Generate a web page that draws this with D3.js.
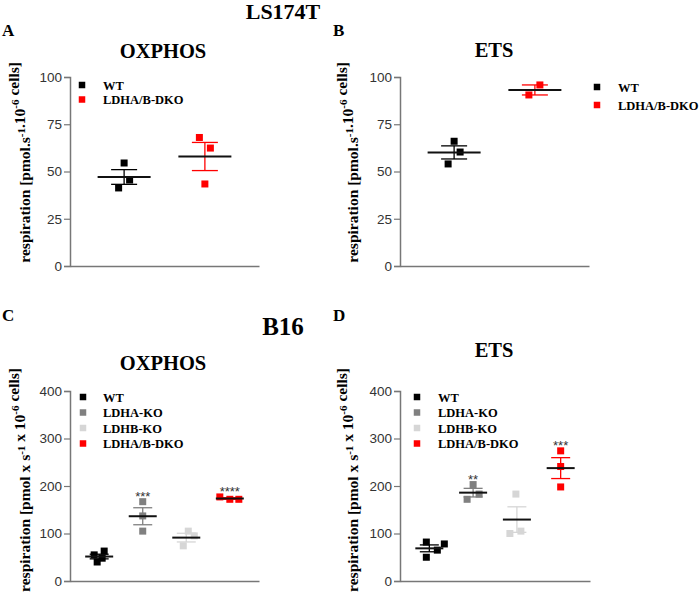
<!DOCTYPE html>
<html><head><meta charset="utf-8">
<script src="https://cdn.jsdelivr.net/npm/d3@7"></script>
<style>body{margin:0;background:#fff} svg{display:block}</style>
</head><body>
<svg id="c" width="700" height="607"></svg>
<script>
// ---------- DATA ----------
const groupsLS = ["WT", "LDHA/B-DKO"];
const groupsB16 = ["WT", "LDHA-KO", "LDHB-KO", "LDHA/B-DKO"];
const ticksLS = [0, 25, 50, 75, 100];
const ticksB16 = [0, 100, 200, 300, 400];
const lsOxphos = [[54.5, 45.5, 41.3], [68, 62.4, 43.4]];
const lsEts = [[66, 60.3, 54], [90.5, 95.8]];
const b16Oxphos = [[55, 63, 40, 48], [167, 137, 105], [105, 95, 74], [177, 172, 172]];
const b16Ets = [[82, 78, 65, 50], [203, 172, 183], [183, 100, 105], [274, 241, 198]];
const sigOxphos = ["", "***", "", "****"];
const sigEts = ["", "**", "", "***"];
const colorsLS = ["#000000", "#ff0000"];
const colorsB16 = ["#000000", "#808080", "#d6d6d6", "#ff0000"];
// horizontal scatter (jitter) of each point, px
const jitA = [[0, 5.5, -5.5], [-5.5, 5.5, 0]];
const jitB = [[0, 6, -6], [-6, 5]];
const jitC = [[-5, 5, -2, 3], [0, 0, 0], [2, 8, -3], [-10, 0, 9]];
const jitD = [[-3, 15, 8, -3], [0, -6, 6], [-1, -7, 4], [0, 0, 0]];

const svg = d3.select("#c");
const serif = "'Liberation Serif','Times New Roman',serif";
const sans = "'Liberation Sans',Arial,sans-serif";

function panel(cfg) {
  const g = svg.append("g");
  const y = d3.scaleLinear().domain([0, cfg.ticks[cfg.ticks.length - 1]]).range([cfg.yBot, cfg.yTop]);
  const x = d3.scalePoint().domain(cfg.groups).range([cfg.x0, cfg.x1]).padding(0.67);

  // axes
  const ya = g.append("g").attr("transform", `translate(${cfg.x0},0)`)
    .call(d3.axisLeft(y).tickValues(cfg.ticks).tickSize(6).tickPadding(2));
  ya.select(".domain").attr("stroke", "#777").attr("stroke-width", 1.5);
  ya.selectAll(".tick line").attr("stroke", "#777").attr("stroke-width", 1.2);
  ya.selectAll(".tick text").attr("font-family", sans).attr("font-size", 13.5).attr("fill", "#333");
  const xa = g.append("g").attr("transform", `translate(0,${cfg.yBot})`)
    .call(d3.axisBottom(x).tickSize(0).tickFormat(""));
  xa.select(".domain").attr("stroke", "#777").attr("stroke-width", 1.5);

  // points
  const ms = 7;
  cfg.data.forEach((vals, gi) => {
    const cx = x(cfg.groups[gi]);
    g.selectAll(null).data(vals).enter().append("rect")
      .attr("x", (d, i) => cx + cfg.jit[gi][i] - ms / 2)
      .attr("y", d => y(d) - ms / 2)
      .attr("width", ms).attr("height", ms)
      .attr("fill", cfg.colors[gi]);
  });
  // mean + SEM
  cfg.data.forEach((vals, gi) => {
    const cx = x(cfg.groups[gi]);
    const m = d3.mean(vals);
    const sem = d3.deviation(vals) / Math.sqrt(vals.length);
    const col = cfg.colors[gi];
    g.append("line").attr("x1", cx).attr("x2", cx).attr("y1", y(m + sem)).attr("y2", y(m - sem))
      .attr("stroke", col).attr("stroke-width", 1.3);
    [m + sem, m - sem].forEach(v => {
      g.append("line").attr("x1", cx - cfg.cap).attr("x2", cx + cfg.cap).attr("y1", y(v)).attr("y2", y(v))
        .attr("stroke", col).attr("stroke-width", 1.3);
    });
    g.append("line").attr("x1", cx - cfg.mw).attr("x2", cx + cfg.mw).attr("y1", y(m)).attr("y2", y(m))
      .attr("stroke", "#111").attr("stroke-width", 2);
    if (cfg.sig && cfg.sig[gi]) {
      g.append("text").attr("x", cx).attr("y", y(d3.max(vals)) - 1)
        .attr("text-anchor", "middle").attr("font-family", sans).attr("font-size", 13)
        .attr("fill", "#333").text(cfg.sig[gi]);
    }
  });

  // legend
  cfg.groups.forEach((name, i) => {
    const ly = cfg.legY + i * cfg.legStep;
    g.append("rect").attr("x", cfg.legX - 3.25).attr("y", ly - 3.25).attr("width", 6.5).attr("height", 6.5)
      .attr("fill", cfg.colors[i]);
    g.append("text").attr("x", cfg.legTextX).attr("y", ly + 4.5)
      .attr("font-family", serif).attr("font-weight", "bold").attr("font-size", 12.5).text(name);
  });

  // title
  g.append("text").attr("x", cfg.titleX).attr("y", cfg.titleY).attr("text-anchor", "middle")
    .attr("font-family", serif).attr("font-weight", "bold").attr("font-size", 20.5).text(cfg.title);

  // y label
  const t = g.append("text").attr("transform", `translate(${cfg.labX},${cfg.labTop}) rotate(-90)`)
    .attr("text-anchor", "end").attr("dy", "0.35em")
    .attr("font-family", serif).attr("font-weight", "bold").attr("font-size", 15.5);
  cfg.label.forEach(part => {
    if (part.sup) {
      t.append("tspan").attr("dy", -5.5).attr("font-size", 11).text(part.sup);
      t.append("tspan").attr("dy", 5.5).text("");
    } else {
      t.append("tspan").text(part.t);
    }
  });
}

const labLS = [{t: "respiration [pmol.s"}, {sup: "-1"}, {t: ".10"}, {sup: "-6"}, {t: " cells]"}];
const labB16 = [{t: "respiration [pmol x s"}, {sup: "-1"}, {t: " x 10"}, {sup: "-6"}, {t: " cells]"}];

panel({groups: groupsLS, data: lsOxphos, jit: jitA, colors: colorsLS, ticks: ticksLS,
  x0: 70, x1: 259, yTop: 77, yBot: 266, mw: 26.5, cap: 13,
  legX: 82, legY: 85, legStep: 14.5, legTextX: 103,
  title: "OXPHOS", titleX: 163, titleY: 58, labX: 25, labTop: 62, label: labLS});
panel({groups: groupsLS, data: lsEts, jit: jitB, colors: colorsLS, ticks: ticksLS,
  x0: 400, x1: 589, yTop: 77, yBot: 266, mw: 26.5, cap: 13,
  legX: 597, legY: 87, legStep: 18, legTextX: 618,
  title: "ETS", titleX: 494, titleY: 57, labX: 353, labTop: 62, label: labLS});
panel({groups: groupsB16, data: b16Oxphos, jit: jitC, colors: colorsB16, ticks: ticksB16, sig: sigOxphos,
  x0: 70, x1: 259, yTop: 391, yBot: 581, mw: 14, cap: 9.5,
  legX: 83, legY: 397, legStep: 15.5, legTextX: 103,
  title: "OXPHOS", titleX: 163, titleY: 370, labX: 25, labTop: 368, label: labB16});
panel({groups: groupsB16, data: b16Ets, jit: jitD, colors: colorsB16, ticks: ticksB16, sig: sigEts,
  x0: 400, x1: 590, yTop: 391, yBot: 581, mw: 14, cap: 9.5,
  legX: 417, legY: 397, legStep: 15.5, legTextX: 438,
  title: "ETS", titleX: 494, titleY: 357, labX: 353, labTop: 368, label: labB16});

// headings and panel letters
const head = (txt, x, y, size, anchor) => svg.append("text").attr("x", x).attr("y", y)
  .attr("text-anchor", anchor || "start").attr("font-family", serif).attr("font-weight", "bold")
  .attr("font-size", size).text(txt);
head("LS174T", 283, 19, 22, "middle");
head("B16", 283, 335, 25, "middle");
head("A", 2, 36, 17);
head("B", 333, 36, 17);
head("C", 2, 321, 17);
head("D", 333, 321, 17);
</script>
</body></html>
